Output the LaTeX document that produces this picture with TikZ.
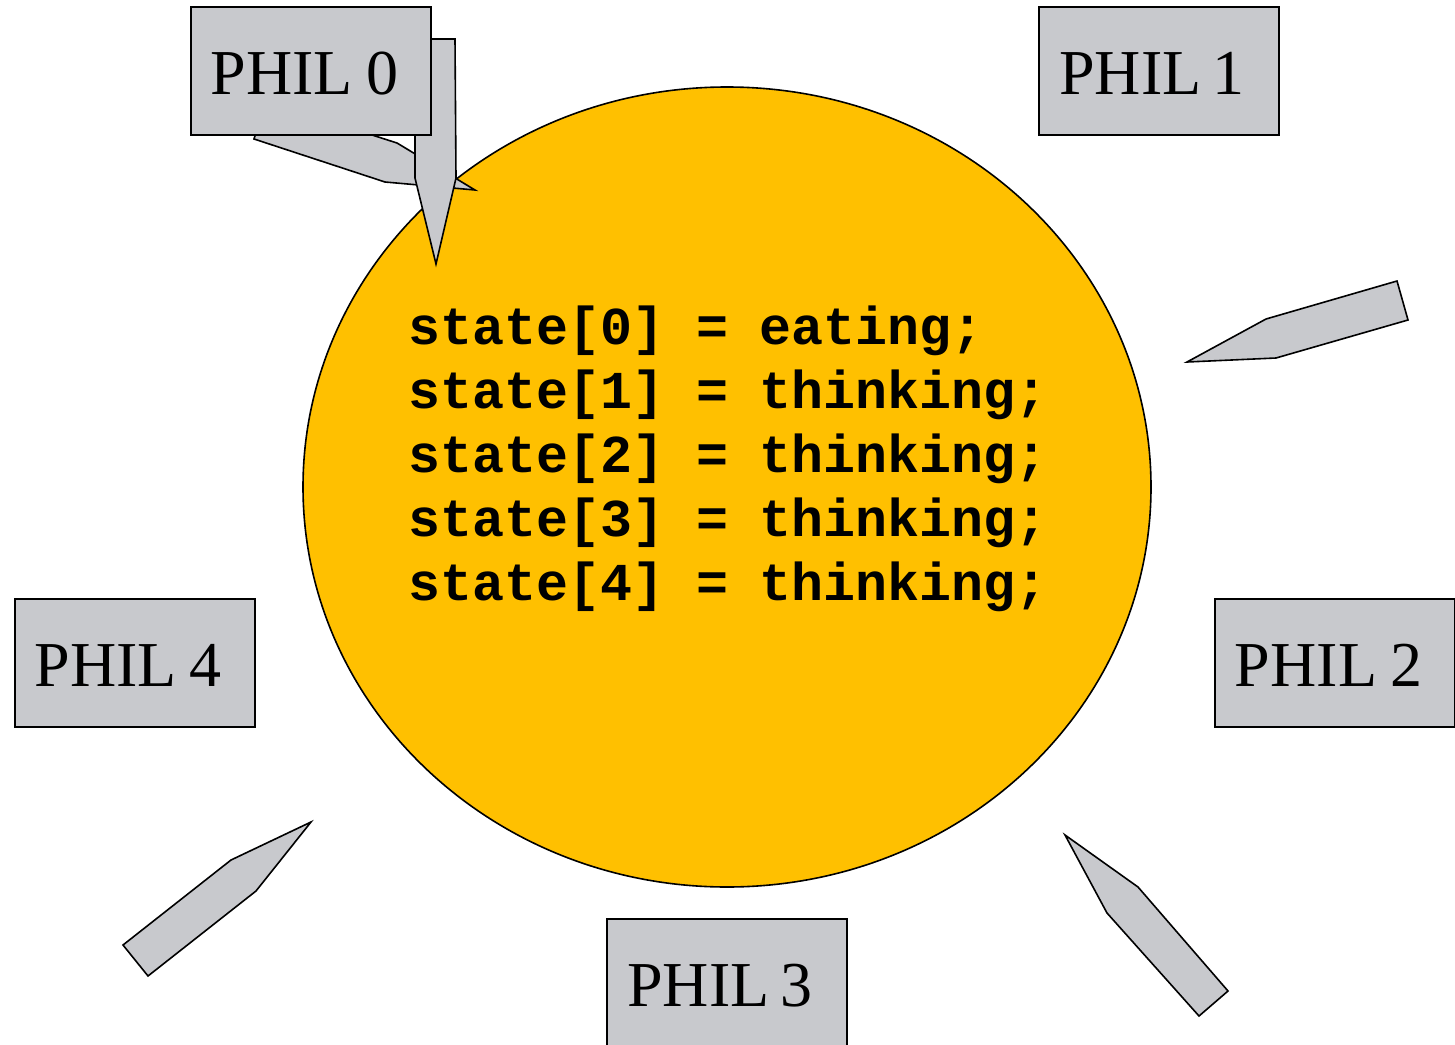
\documentclass[tikz,border=0pt]{standalone}
\usepackage{fontspec}
\setmainfont{Liberation Serif}
\setmonofont{Liberation Mono}
\usepackage{tikz}
\usetikzlibrary{arrows.meta,shapes.geometric,positioning,calc}

\begin{document}
\begin{tikzpicture}[x=1pt,y=-1pt,
    phil/.style={draw, fill=philgray, line width=2pt, minimum width=240pt, minimum height=128pt, inner sep=0pt, text height=46pt, text depth=0pt, font=\fontsize{64}{64}\selectfont},
    fork/.style={draw, fill=philgray, line width=1.6pt, line join=miter},
    table/.style={draw, ellipse, fill=tableorange, line width=1.6pt, minimum width=848pt, minimum height=800pt, inner sep=0pt},
    code/.style={font=\ttfamily\bfseries\fontsize{53.3}{64}\selectfont, align=left, inner sep=0pt, anchor=north west}
]
\definecolor{philgray}{RGB}{200,201,205}
\definecolor{tableorange}{RGB}{255,192,0}
\useasboundingbox (0,0) rectangle (1455,1044);
\clip (0,0) rectangle (1455,1044);

\node[table] (T) at (727,487) {};

\draw[fork] (254,139) -- (266,101) -- (397,143) -- (475,190) -- (385,182) -- cycle;
\draw[fork] (415,39) -- (455,39) -- (456,178) -- (436,264) -- (415,178) -- cycle;
\draw[fork] (1397,281) -- (1408,320) -- (1276,358) -- (1187,362) -- (1266,319) -- cycle;
\draw[fork] (1228,991) -- (1199,1016) -- (1107,913) -- (1065,835) -- (1138,887) -- cycle;
\draw[fork] (123,945) -- (231,860) -- (311,822) -- (256,891) -- (148,976) -- cycle;

\node[phil] (P0) at (311,71) {\hspace*{-13pt}PHIL\hspace{13pt}0};
\node[phil] (P1) at (1159,71) {\hspace*{-14pt}PHIL\hspace{11pt}1};
\node[phil] (P2) at (1335,663) {\hspace*{-13pt}PHIL\hspace{13pt}2};
\node[phil] (P3) at (727,983) {\hspace*{-14pt}PHIL\hspace{11pt}3};
\node[phil] (P4) at (135,663) {\hspace*{-14pt}PHIL\hspace{12pt}4};

\node[code] (S) at (408,306) {state[0] = eating;\\state[1] = thinking;\\state[2] = thinking;\\state[3] = thinking;\\state[4] = thinking;};
\end{tikzpicture}
\end{document}
